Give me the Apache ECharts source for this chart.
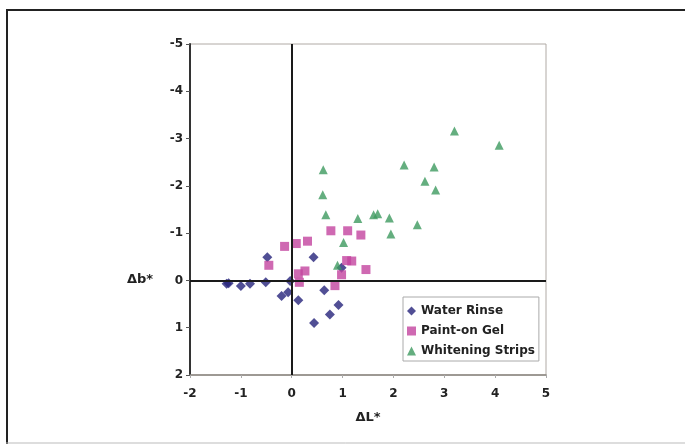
<!DOCTYPE html>
<html><head><meta charset="utf-8">
<script src="https://cdn.jsdelivr.net/npm/echarts@6/dist/echarts.min.js"></script>
<style>html,body{margin:0;padding:0;background:#fff}#c{width:685px;height:444px}</style>
</head><body><div id="c"></div>
<script>
var seriesNames = ['Water Rinse', 'Paint-on Gel', 'Whitening Strips'];
var waterRinseL = [-1.28, -1.24, -1.0, -0.82, -0.51, -0.48, -0.20, -0.07, -0.03, 0.13, 0.43, 0.44, 0.64, 0.75, 0.92, 0.98];
var waterRinseB = [0.07, 0.06, 0.12, 0.07, 0.04, -0.49, 0.33, 0.25, 0.01, 0.42, -0.49, 0.90, 0.21, 0.72, 0.52, -0.27];
var gelL = [-0.45, -0.14, 0.09, 0.31, 0.13, 0.26, 0.15, 0.77, 1.10, 1.36, 1.08, 1.18, 0.98, 0.85, 1.46];
var gelB = [-0.32, -0.72, -0.78, -0.83, -0.14, -0.20, 0.04, -1.05, -1.05, -0.96, -0.42, -0.41, -0.12, 0.11, -0.23];
var stripsL = [0.62, 0.61, 0.67, 1.02, 0.90, 1.30, 1.61, 1.69, 1.92, 1.95, 2.21, 2.47, 2.62, 2.80, 2.83, 3.20, 4.08];
var stripsB = [-2.34, -1.81, -1.39, -0.80, -0.32, -1.31, -1.39, -1.41, -1.32, -0.98, -2.44, -1.18, -2.10, -2.40, -1.91, -3.16, -2.86];
var xTicks = [-2, -1, 0, 1, 2, 3, 4, 5];
var yTicks = [-5, -4, -3, -2, -1, 0, 1, 2];

function pairs(a, b) { return a.map(function (v, i) { return [v, b[i]]; }); }
var font = 'DejaVu Sans, Verdana, sans-serif';
var chart = echarts.init(document.getElementById('c'), null, {renderer: 'canvas'});
chart.setOption({
  animation: false,
  backgroundColor: '#fff',
  grid: {left: 190, top: 44, right: 139, bottom: 69, show: true, borderColor: '#b0aaa5', borderWidth: 1, backgroundColor: 'transparent'},
  xAxis: {
    type: 'value', min: xTicks[0], max: xTicks[xTicks.length - 1], interval: 1,
    name: 'ΔL*', nameLocation: 'middle', nameGap: 36,
    nameTextStyle: {fontFamily: font, fontWeight: 'bold', fontSize: 13, color: '#222'},
    axisLine: {onZero: false, lineStyle: {color: '#8a8580', width: 1.5}},
    axisTick: {show: true, length: 3, lineStyle: {color: '#aaa'}},
    splitLine: {show: false},
    axisLabel: {fontFamily: font, fontWeight: 'bold', fontSize: 12, color: '#222', margin: 13}
  },
  yAxis: {
    type: 'value', inverse: true, min: yTicks[0], max: yTicks[yTicks.length - 1], interval: 1,
    axisLine: {onZero: false, lineStyle: {color: '#333', width: 2}},
    axisTick: {show: true, length: 4, lineStyle: {color: '#555'}},
    splitLine: {show: false},
    axisLabel: {fontFamily: font, fontWeight: 'bold', fontSize: 12, color: '#222', margin: 7}
  },
  legend: {
    orient: 'vertical', left: 403, top: 297,
    backgroundColor: '#fff', borderColor: '#aaa', borderWidth: 1,
    padding: [8, 4, 4, 4], itemGap: 8, itemWidth: 9, itemHeight: 9,
    textStyle: {fontFamily: font, fontWeight: 'bold', fontSize: 12, color: '#222'},
    data: [
      {name: seriesNames[0], icon: 'diamond'},
      {name: seriesNames[1], icon: 'rect'},
      {name: seriesNames[2], icon: 'triangle'}
    ]
  },
  graphic: [
    {type: 'line', shape: {x1: 6, y1: 10, x2: 685, y2: 10}, style: {stroke: '#222', lineWidth: 2}},
    {type: 'line', shape: {x1: 7, y1: 10, x2: 7, y2: 444}, style: {stroke: '#222', lineWidth: 2}},
    {type: 'line', shape: {x1: 6, y1: 443, x2: 685, y2: 443}, style: {stroke: '#bbb', lineWidth: 1}},
    {type: 'text', left: 127, top: 273, style: {text: 'Δb*', font: 'bold 13px DejaVu Sans', fill: '#222'}}
  ],
  series: [
    {name: seriesNames[0], type: 'scatter', symbol: 'diamond', symbolSize: 10,
     itemStyle: {color: '#26237a'}, data: pairs(waterRinseL, waterRinseB), z: 3,
     markLine: {silent: true, symbol: 'none', label: {show: false},
       lineStyle: {color: '#1a1a1a', width: 2, type: 'solid'},
       data: [{xAxis: 0}, {yAxis: 0}]}},
    {name: seriesNames[1], type: 'scatter', symbol: 'rect', symbolSize: 9,
     itemStyle: {color: '#c3449f'}, data: pairs(gelL, gelB), z: 4},
    {name: seriesNames[2], type: 'scatter', symbol: 'triangle', symbolSize: 9,
     itemStyle: {color: '#3d9a5f'}, data: pairs(stripsL, stripsB), z: 5}
  ]
});
</script></body></html>
